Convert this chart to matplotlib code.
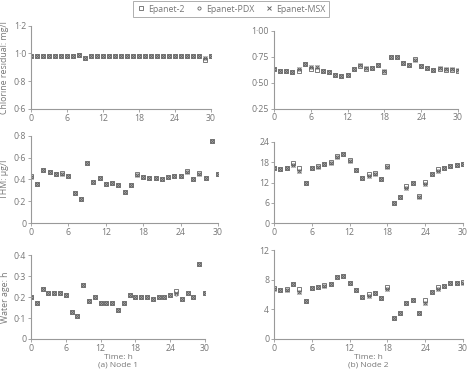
import numpy as np
import matplotlib
matplotlib.use("Agg")
import matplotlib.pyplot as plt
from matplotlib.ticker import FuncFormatter

plt.rcParams['font.family'] = ['Open Sans', 'DejaVu Sans']

hours = list(range(31))

# Node 1 chlorine residual, mg/l
cl1_ep2 = [0.98] * 8 + [0.99, 0.97] + [0.98] * 19 + [0.955, 0.98]
cl1_pdx = [0.98] * 8 + [0.99, 0.97] + [0.98] * 19 + [0.97, 0.98]
cl1_msx = [0.98] * 8 + [0.99, 0.97] + [0.98] * 19 + [0.97, 0.98]

# Node 2 chlorine residual, mg/l
cl2_ep2 = [0.63, 0.61, 0.61, 0.60, 0.61, 0.68, 0.63, 0.62, 0.61, 0.60, 0.57, 0.56, 0.57, 0.63, 0.66,
           0.63, 0.64, 0.67, 0.60, 0.75, 0.75, 0.69, 0.67, 0.73, 0.66, 0.64, 0.62, 0.63, 0.62, 0.62, 0.61]
cl2_pdx = [0.63, 0.61, 0.61, 0.60, 0.63, 0.68, 0.65, 0.65, 0.61, 0.60, 0.57, 0.56, 0.57, 0.63, 0.67,
           0.64, 0.64, 0.67, 0.61, 0.75, 0.75, 0.69, 0.67, 0.72, 0.66, 0.64, 0.62, 0.64, 0.63, 0.63, 0.62]
cl2_msx = [0.63, 0.61, 0.61, 0.60, 0.63, 0.68, 0.65, 0.65, 0.61, 0.60, 0.57, 0.56, 0.57, 0.63, 0.67,
           0.64, 0.64, 0.67, 0.61, 0.75, 0.75, 0.69, 0.67, 0.72, 0.66, 0.64, 0.62, 0.64, 0.63, 0.63, 0.62]

# Node 1 THM, ug/l
thm1_ep2 = [0.43, 0.36, 0.49, 0.47, 0.45, 0.46, 0.43, 0.28, 0.22, 0.55, 0.38, 0.41, 0.36, 0.37, 0.35,
            0.29, 0.35, 0.45, 0.42, 0.41, 0.41, 0.40, 0.42, 0.43, 0.43, 0.48, 0.40, 0.46, 0.41, 0.75, 0.45]
thm1_pdx = [0.42, 0.36, 0.49, 0.47, 0.45, 0.45, 0.43, 0.28, 0.22, 0.55, 0.38, 0.41, 0.36, 0.37, 0.35,
            0.29, 0.35, 0.44, 0.42, 0.41, 0.41, 0.40, 0.42, 0.43, 0.43, 0.47, 0.40, 0.45, 0.41, 0.75, 0.45]
thm1_msx = [0.42, 0.36, 0.49, 0.47, 0.45, 0.45, 0.43, 0.28, 0.22, 0.55, 0.38, 0.41, 0.36, 0.37, 0.35,
            0.29, 0.35, 0.44, 0.42, 0.41, 0.41, 0.40, 0.42, 0.43, 0.43, 0.47, 0.40, 0.45, 0.41, 0.75, 0.45]

# Node 2 THM, ug/l
thm2_ep2 = [16.4, 16.0, 16.4, 17.8, 16.4, 12.0, 16.4, 16.9, 17.4, 18.1, 19.9, 20.4, 18.6, 15.7, 13.3,
            14.5, 14.7, 12.9, 16.8, 6.1, 7.6, 10.9, 11.8, 7.9, 12.1, 14.6, 16.1, 16.4, 17.0, 17.1, 17.4]
thm2_pdx = [16.2, 16.0, 16.2, 17.2, 15.3, 12.0, 16.2, 16.6, 17.4, 17.6, 19.5, 20.4, 18.4, 15.7, 13.2,
            14.0, 14.5, 12.9, 16.6, 6.1, 7.6, 10.5, 11.8, 7.8, 11.5, 14.6, 15.5, 16.2, 17.0, 17.1, 17.4]
thm2_msx = [16.2, 16.0, 16.2, 17.2, 15.3, 12.0, 16.2, 16.6, 17.4, 17.6, 19.5, 20.4, 18.4, 15.7, 13.2,
            14.0, 14.5, 12.9, 16.6, 6.1, 7.6, 10.5, 11.8, 7.8, 11.5, 14.6, 15.5, 16.2, 17.0, 17.1, 17.4]

# Node 1 water age, h
age1_ep2 = [0.20, 0.17, 0.24, 0.22, 0.22, 0.22, 0.21, 0.13, 0.11, 0.26, 0.18, 0.20, 0.17, 0.17, 0.17,
            0.14, 0.17, 0.21, 0.20, 0.20, 0.20, 0.19, 0.20, 0.20, 0.21, 0.23, 0.19, 0.22, 0.20, 0.36, 0.22]
age1_pdx = [0.20, 0.17, 0.24, 0.22, 0.22, 0.22, 0.21, 0.13, 0.11, 0.26, 0.18, 0.20, 0.17, 0.17, 0.17,
            0.14, 0.17, 0.21, 0.20, 0.20, 0.20, 0.19, 0.20, 0.20, 0.21, 0.215, 0.19, 0.22, 0.20, 0.36, 0.22]
age1_msx = [0.20, 0.17, 0.24, 0.22, 0.22, 0.22, 0.21, 0.13, 0.11, 0.26, 0.18, 0.20, 0.17, 0.17, 0.17,
            0.14, 0.17, 0.21, 0.20, 0.20, 0.20, 0.19, 0.20, 0.20, 0.21, 0.22, 0.19, 0.22, 0.20, 0.36, 0.22]

# Node 2 water age, h
age2_ep2 = [6.85, 6.55, 6.75, 7.35, 6.8, 5.1, 6.9, 7.05, 7.25, 7.45, 8.35, 8.55, 7.6, 6.6, 5.7,
            6.05, 6.15, 5.55, 7.0, 2.8, 3.45, 4.8, 5.2, 3.45, 5.2, 6.3, 7.0, 7.2, 7.5, 7.55, 7.65]
age2_pdx = [6.7, 6.55, 6.65, 7.35, 6.4, 5.1, 6.85, 7.05, 7.2, 7.45, 8.3, 8.55, 7.6, 6.55, 5.7,
            5.75, 6.15, 5.55, 6.8, 2.8, 3.45, 4.8, 5.2, 3.45, 4.85, 6.3, 6.8, 7.15, 7.5, 7.55, 7.6]
age2_msx = [6.7, 6.55, 6.65, 7.35, 6.4, 5.1, 6.85, 7.05, 7.2, 7.45, 8.3, 8.55, 7.6, 6.55, 5.7,
            5.75, 6.15, 5.55, 6.8, 2.8, 3.45, 4.8, 5.2, 3.45, 4.85, 6.3, 6.8, 7.15, 7.5, 7.55, 7.6]

series_names = ["Epanet-2", "Epanet-PDX", "Epanet-MSX"]
grey = "#777777"
mark = "#666666"

fig = plt.figure(figsize=(4.71, 3.71), dpi=100)
W, H = 471, 371


def make_ax(left, right, top, bottom):
    return fig.add_axes([left / W, 1 - bottom / H, (right - left) / W, (bottom - top) / H])


panels = [
    # (pixel box, data, ylim, yticks, decimals, ylabel)
    ((31, 211, 25.7, 109), (cl1_ep2, cl1_pdx, cl1_msx), (0.6, 1.2), [0.6, 0.8, 1.0, 1.2], 1, "Chlorine residual: mg/l"),
    ((274, 458, 30.7, 108.5), (cl2_ep2, cl2_pdx, cl2_msx), (0.25, 1.0), [0.25, 0.5, 0.75, 1.0], 2, None),
    ((31, 218, 135.7, 223.3), (thm1_ep2, thm1_pdx, thm1_msx), (0, 0.8), [0, 0.2, 0.4, 0.6, 0.8], 1, "THM: μg/l"),
    ((274, 463, 141.7, 223.3), (thm2_ep2, thm2_pdx, thm2_msx), (0, 24), [0, 6, 12, 18, 24], 0, None),
    ((31, 205, 255.3, 339), (age1_ep2, age1_pdx, age1_msx), (0, 0.4), [0, 0.1, 0.2, 0.3, 0.4], 1, "Water age: h"),
    ((274, 463, 250, 339), (age2_ep2, age2_pdx, age2_msx), (0, 12), [0, 4, 8, 12], 0, None),
]


def fmt_factory(dec):
    def f(v, pos):
        if abs(v) < 1e-9:
            return "0"
        return f"{v:.{dec}f}".replace(".", "·")
    return f


handles = []
for i, (box, data, ylim, yticks, dec, ylabel) in enumerate(panels):
    ax = make_ax(box[0], box[1], box[2], box[3])
    ep2, pdx, msx = data
    h1, = ax.plot(hours, ep2, ls="none", marker="s", ms=3.2, mfc="none", mec=mark, mew=0.6)
    h2, = ax.plot(hours, pdx, ls="none", marker="o", ms=2.3, mfc="none", mec=mark, mew=0.6)
    h3, = ax.plot(hours, msx, ls="none", marker="x", ms=2.2, mec=mark, mew=0.7)
    if i == 0:
        handles = [h1, h2, h3]
    ax.set_xlim(0, 30)
    ax.set_ylim(*ylim)
    ax.set_xticks([0, 6, 12, 18, 24, 30])
    ax.set_yticks(yticks)
    ax.yaxis.set_major_formatter(FuncFormatter(fmt_factory(dec)))
    for s in ["top", "right"]:
        ax.spines[s].set_visible(False)
    for s in ["left", "bottom"]:
        ax.spines[s].set_color("#999999")
        ax.spines[s].set_linewidth(0.8)
    ax.tick_params(direction="out", length=2, width=0.6, colors="#999999",
                   labelcolor=grey, labelsize=6.3, pad=1.5)
    if ylabel:
        ax.set_ylabel(ylabel, fontsize=6.3, color=grey, labelpad=3)
    if i in (4, 5):
        ax.set_xlabel("Time: h\n" + ("(a) Node 1" if i == 4 else "(b) Node 2"),
                      fontsize=6, color=grey, labelpad=0.5, linespacing=1.1)

leg = fig.legend(handles, series_names, loc="center", bbox_to_anchor=(231 / W, 1 - 9 / H),
                 ncol=3, fontsize=6.3, frameon=True, fancybox=False, handletextpad=0.3,
                 columnspacing=1.2, handlelength=1.0, borderpad=0.4, labelcolor=grey)
leg.get_frame().set_edgecolor("#999999")
leg.get_frame().set_linewidth(0.7)

fig.savefig("out.png", dpi=100)
